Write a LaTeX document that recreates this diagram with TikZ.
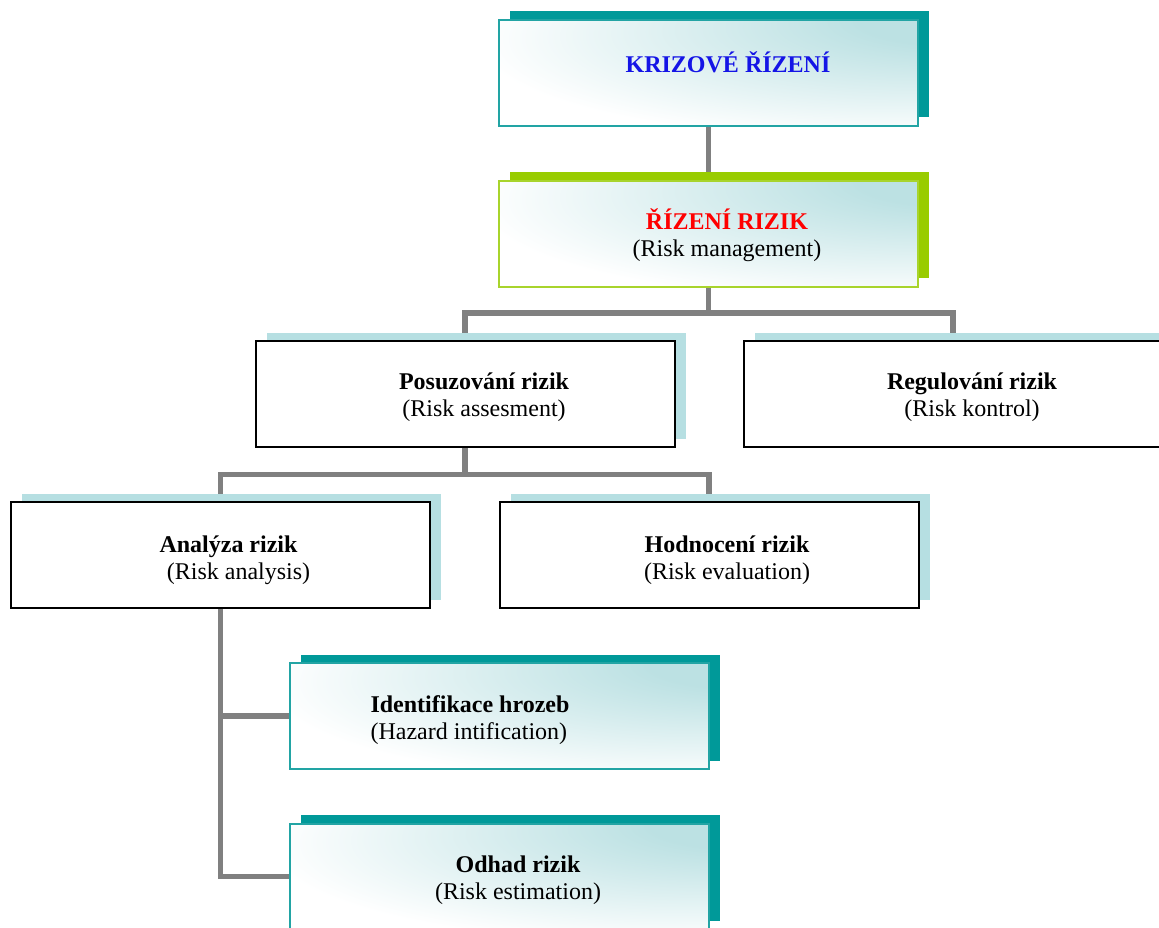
\documentclass[tikz,border=0pt]{standalone}
\usepackage{fontspec}
\setmainfont{Liberation Serif}
\usetikzlibrary{shadows}
\pgfdeclarelayer{background}
\pgfsetlayers{background,main}
\definecolor{tealS}{HTML}{009999}
\definecolor{tealB}{HTML}{22A4A4}
\definecolor{greenS}{HTML}{99CC00}
\definecolor{greenB}{HTML}{A8D42C}
\definecolor{lightS}{HTML}{B6DFE2}
\definecolor{gradT}{HTML}{BCE1E3}
\definecolor{connG}{HTML}{808080}
\definecolor{ksblue}{HTML}{1414E6}
\definecolor{rrred}{HTML}{FF0000}
\pgfdeclareradialshading{boxshade}{\pgfpoint{34bp}{28bp}}{color(0bp)=(gradT); color(12bp)=(gradT); color(46bp)=(white); color(100bp)=(white)}
\begin{document}
\begin{tikzpicture}[x=1pt,y=-1pt,
  conn/.style={draw=connG, line width=5.5pt},
  boxbase/.style={rectangle, minimum width=419pt, minimum height=106pt, inner sep=0pt, line width=2pt},
  gbox/.style={boxbase, shade, shading=boxshade, draw=tealB,
    drop shadow={shadow xshift=11pt, shadow yshift=8.5pt, opacity=1, fill=tealS}},
  grbox/.style={boxbase, shade, shading=boxshade, draw=greenB,
    drop shadow={shadow xshift=11pt, shadow yshift=8.5pt, opacity=1, fill=greenS}},
  wbox/.style={boxbase, fill=white, draw=black,
    drop shadow={shadow xshift=11pt, shadow yshift=8pt, opacity=1, fill=lightS}},
  lbl/.style={inner sep=0pt, font=\fontsize{24pt}{27pt}\selectfont, align=center}
]
\useasboundingbox (0,0) rectangle (1159,927);

% boxes
\node[gbox]  (ks)  at (708.5,72.5)  {};
\node[grbox] (rr)  at (708.5,233.5) {};
\node[wbox]  (pr)  at (465,393.5)   {};
\node[wbox]  (reg) at (953,393.5)   {};
\node[wbox]  (an)  at (220.5,554.5) {};
\node[wbox]  (ho)  at (709,554.5)   {};
\node[gbox]  (id)  at (499.5,716)   {};
\node[gbox]  (od)  at (499.5,876.5) {};

% texts
\node[lbl, text=ksblue] (kst) at (728,62) {\textbf{KRIZOVÉ ŘÍZENÍ}};
\node[lbl] (rrt) at (727,235) {\textcolor{rrred}{\textbf{ŘÍZENÍ RIZIK}}\\(Risk management)};
\node[lbl] (prt) at (484,397.5) {\textbf{Posuzování rizik}\\(Risk assesment)};
\node[lbl] (regt) at (972,397.5) {\textbf{Regulování rizik}\\(Risk kontrol)};
\node[lbl] (ant) at (228.5,560) {\textbf{Analýza rizik}\\\hspace*{20pt}(Risk analysis)};
\node[lbl] (hot) at (727,560) {\textbf{Hodnocení rizik}\\(Risk evaluation)};
\node[lbl, align=left] (idt) at (470,720.5) {\textbf{Identifikace hrozeb}\\(Hazard intification)};
\node[lbl] (odt) at (518,880.5) {\textbf{Odhad rizik}\\(Risk estimation)};

% connectors
\coordinate (b1) at (708.5,313);
\coordinate (b2) at (465,474.5);
\begin{pgfonlayer}{background}
\draw[conn] (ks.south) -- (rr.north);
\draw[conn] (rr.south) -- (b1);
\draw[conn] (pr.north) |- (b1) -| (reg.north);
\draw[conn] (pr.south) -- (b2);
\draw[conn] (an.north) |- (b2) -| (ho.north);
\draw[conn] (an.south) |- (od.west);
\draw[conn] (an.south |- id.west) -- (id.west);
\end{pgfonlayer}
\end{tikzpicture}
\end{document}
